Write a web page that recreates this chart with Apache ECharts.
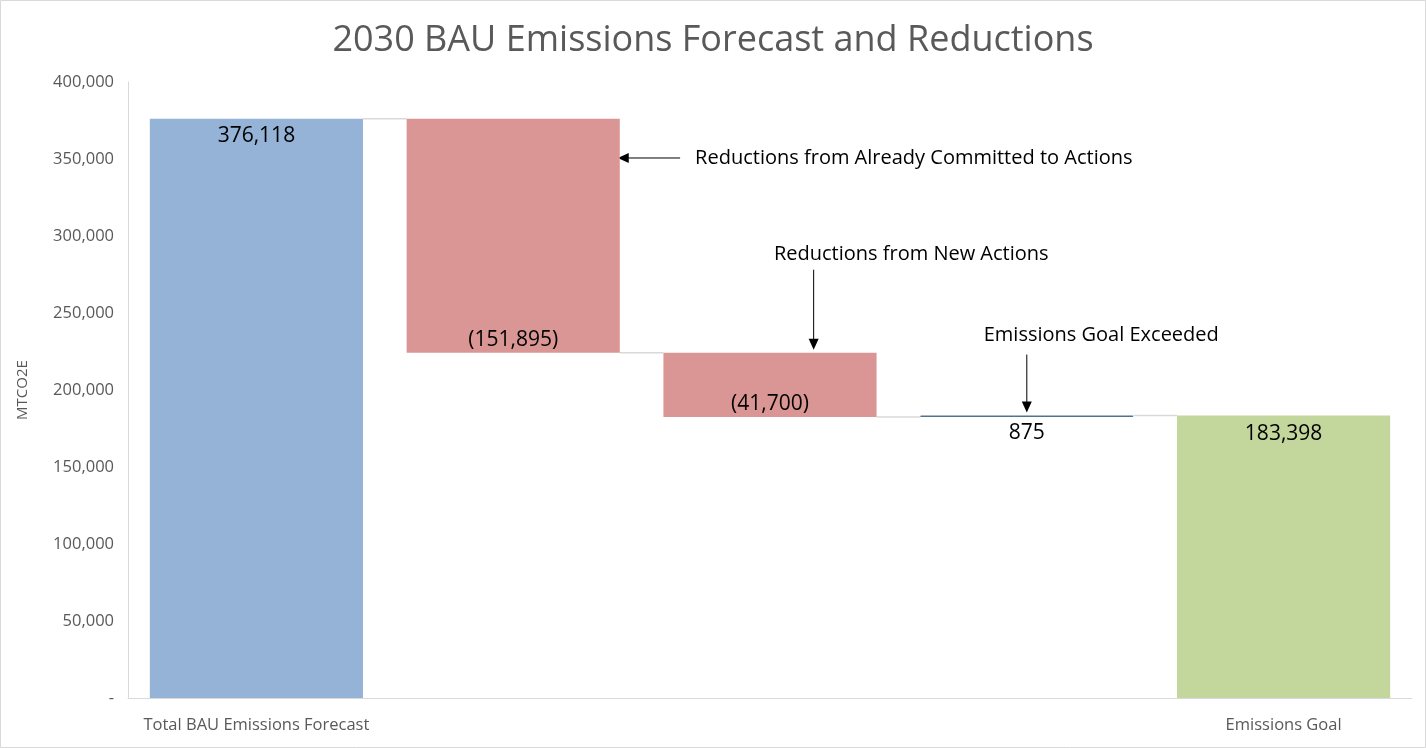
<!DOCTYPE html>
<html>
<head>
<meta charset="utf-8">
<script src="https://cdn.jsdelivr.net/npm/echarts@6/dist/echarts.min.js"></script>
<style>
html,body{margin:0;padding:0;background:#fff;}
#chart{width:1426px;height:748px;}
</style>
</head>
<body>
<div id="chart"></div>
<script>
// ---- data ----
const title = '2030 BAU Emissions Forecast and Reductions';
const yAxisName = 'MTCO2E';
const categories = ['Total BAU Emissions Forecast', 'Reductions from Already Committed to Actions', 'Reductions from New Actions', 'Emissions Goal Exceeded', 'Emissions Goal'];
const axisLabels = ['Total BAU Emissions Forecast', '', '', '', 'Emissions Goal'];
const changes = [376118, -151895, -41700, 875, 183398];
const kinds = ['total', 'decrease', 'decrease', 'increase', 'total'];
const yMin = 0, yMax = 400000, yStep = 50000;
const annotations = [
  {text: 'Reductions from Already Committed to Actions', cat: 1, value: 350650, dir: 'left'},
  {text: 'Reductions from New Actions', cat: 2, value: 224223, dir: 'down'},
  {text: 'Emissions Goal Exceeded', cat: 3, value: 183398, dir: 'down'}
];

// ---- styles ----
const colors = {total0: '#95B3D7', decrease: '#D99694', increase: '#4F6F8F', total4: '#C3D69B'};
const FONT = 'Open Sans';

// ---- build waterfall ----
const base = [], height = [], levels = [];
let level = 0;
changes.forEach((v, i) => {
  if (kinds[i] === 'total') { base.push(0); height.push(v); level = v; }
  else if (v < 0) { base.push(level + v); height.push(-v); level = level + v; }
  else { base.push(level); height.push(v); level = level + v; }
  levels.push(level);
});
function fmt(v) {
  const s = Math.abs(v).toLocaleString('en-US');
  return v < 0 ? '(' + s + ')' : s;
}
const barColor = (i) => kinds[i] === 'decrease' ? colors.decrease : kinds[i] === 'increase' ? colors.increase : (i === 0 ? colors.total0 : colors.total4);
const labelPos = (i) => kinds[i] === 'decrease' ? 'insideBottom' : kinds[i] === 'increase' ? 'bottom' : 'insideTop';
const labelDist = (i) => kinds[i] === 'decrease' ? 2 : kinds[i] === 'increase' ? 6 : (i === 0 ? 7 : 8);
const BAR_FRAC = 0.83;

const chart = echarts.init(document.getElementById('chart'), null, {renderer: 'canvas'});
const option = {
  animation: false,
  backgroundColor: '#fff',
  title: {text: title, left: 'center', top: 18, textStyle: {fontFamily: FONT, fontSize: 36, fontWeight: 'normal', color: '#595959'}},
  grid: {left: 128, right: 14, top: 82, bottom: 50},
  xAxis: {
    type: 'category', data: categories,
    axisLine: {lineStyle: {color: '#D9D9D9', width: 1}},
    axisTick: {show: false},
    axisLabel: {interval: 0, margin: 19, color: '#595959', fontFamily: FONT, fontSize: 16.5, formatter: (v, i) => axisLabels[i]}
  },
  yAxis: {
    type: 'value', min: yMin, max: yMax, interval: yStep,
    name: yAxisName, nameLocation: 'middle', nameGap: 98, nameRotate: 90,
    nameTextStyle: {color: '#595959', fontFamily: FONT, fontSize: 15},
    axisLine: {show: true, lineStyle: {color: '#D9D9D9', width: 1}},
    axisTick: {show: false},
    splitLine: {show: false},
    axisLabel: {margin: 14, color: '#595959', fontFamily: FONT, fontSize: 16.5, formatter: v => v === 0 ? '-' : v.toLocaleString('en-US')}
  },
  series: [
    {type: 'bar', stack: 'w', barWidth: (BAR_FRAC * 100) + '%', itemStyle: {color: 'transparent'}, data: base, silent: true},
    {type: 'bar', stack: 'w', barWidth: (BAR_FRAC * 100) + '%',
      data: height.map((h, i) => ({
        value: h,
        itemStyle: {color: barColor(i), borderColor: kinds[i] === 'increase' ? colors.increase : undefined, borderWidth: kinds[i] === 'increase' ? 1 : 0},
        label: {show: true, position: labelPos(i), distance: labelDist(i), formatter: () => fmt(changes[i]), color: '#000', fontFamily: FONT, fontSize: 21}
      }))
    },
    {type: 'custom', silent: true, z: 1,
      data: levels.slice(0, levels.length - 1).map((lv, i) => [i, lv]),
      renderItem: function (params, api) {
        const p = api.coord([api.value(0), api.value(1)]);
        const band = api.size([1, 0])[0];
        const half = band * BAR_FRAC / 2;
        return {type: 'line', shape: {x1: p[0] + half, y1: p[1], x2: p[0] + band - half, y2: p[1]}, style: {stroke: '#D9D9D9', lineWidth: 1.5}};
      }
    }
  ]
};
chart.setOption(option);

// ---- annotations (anchored to data coordinates) ----
const band = chart.convertToPixel({xAxisIndex: 0}, 1) - chart.convertToPixel({xAxisIndex: 0}, 0);
const graphics = [];
function arrowHead(tx, ty, dir) {
  const L = 11, W = 5;
  let pts;
  if (dir === 'left') pts = [[tx, ty], [tx + L, ty - W], [tx + L, ty + W]];
  else pts = [[tx, ty], [tx - W, ty - L], [tx + W, ty - L]];
  return {type: 'polygon', shape: {points: pts}, style: {fill: '#000'}};
}
annotations.forEach(a => {
  const p = chart.convertToPixel({xAxisIndex: 0, yAxisIndex: 0}, [a.cat, a.value]);
  const tStyle = {fill: '#000', font: '20px "' + FONT + '"'};
  if (a.dir === 'left') {
    const tipX = p[0] + band * BAR_FRAC / 2 - 2;
    const tailX = p[0] + band * 0.65;
    graphics.push({type: 'line', shape: {x1: tipX + 8, y1: p[1], x2: tailX, y2: p[1]}, style: {stroke: '#000', lineWidth: 1}});
    graphics.push(arrowHead(tipX, p[1], 'left'));
    graphics.push({type: 'text', x: tailX + 15, y: p[1], style: Object.assign({text: a.text, verticalAlign: 'middle', align: 'left'}, tStyle)});
  } else if (a.cat === 2) {
    const ax = p[0] + band * 0.17;
    const tipY = p[1] - 3;
    graphics.push({type: 'line', shape: {x1: ax, y1: tipY - 8, x2: ax, y2: tipY - 80}, style: {stroke: '#000', lineWidth: 1}});
    graphics.push(arrowHead(ax, tipY, 'down'));
    graphics.push({type: 'text', x: p[0] + band * 0.55, y: tipY - 95, style: Object.assign({text: a.text, verticalAlign: 'middle', align: 'center'}, tStyle)});
  } else {
    const ax = p[0];
    const tipY = p[1] - 3;
    graphics.push({type: 'line', shape: {x1: ax, y1: tipY - 8, x2: ax, y2: tipY - 58}, style: {stroke: '#000', lineWidth: 1}});
    graphics.push(arrowHead(ax, tipY, 'down'));
    graphics.push({type: 'text', x: p[0] + band * 0.29, y: tipY - 77, style: Object.assign({text: a.text, verticalAlign: 'middle', align: 'center'}, tStyle)});
  }
});
graphics.push({type: 'rect', shape: {x: 0.5, y: 0.5, width: 1425, height: 747}, style: {fill: 'none', stroke: '#D9D9D9', lineWidth: 1}, silent: true});
chart.setOption({graphic: graphics});
</script>
</body>
</html>
